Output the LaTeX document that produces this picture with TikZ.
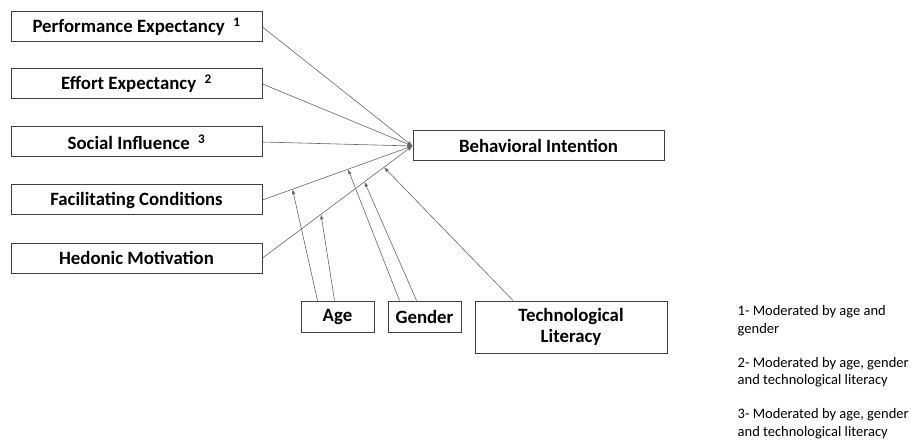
\documentclass[tikz,border=0pt]{standalone}
\usepackage{fontspec}
\setmainfont{Carlito}
\usetikzlibrary{positioning, arrows.meta}

\begin{document}
\begin{tikzpicture}[x=1pt, y=-1pt,
        % Define styles for the model components
        factor/.style={draw=black!75, line width=1pt, rectangle, minimum width=251pt, minimum height=30pt, align=center, font=\fontsize{18.8}{21}\selectfont\bfseries},
        moderator/.style={draw=black!75, line width=1pt, rectangle, minimum width=73pt, minimum height=31pt, align=center, font=\fontsize{18.8}{21}\selectfont\bfseries},
        effect/.style={draw=black!60, line width=0.6pt, -{Latex[length=5pt, width=4pt]}},
        moderation/.style={draw=black!60, line width=0.6pt, -{Latex[length=5pt, width=3.5pt]}},
        note/.style={align=left, inner sep=0pt, font=\fontsize{14.5}{17.5}\selectfont}
    ]
    \useasboundingbox (0,0) rectangle (911,441);
    
    % --- CONSTRUCTS ---
    % Predictors
    \node[factor] (pe) at (136.5,27) {Performance Expectancy~~\textsuperscript{1}};
    \node[factor, below=26pt of pe] (ee) {Effort Expectancy~~\textsuperscript{2}};
    \node[factor, below=27pt of ee] (si) {Social Influence~~\textsuperscript{3}};
    \node[factor, below=27pt of si] (fc) {Facilitating Conditions};
    \node[factor, below=27pt of fc] (hm) {Hedonic Motivation};
    
    % Outcome
    \node[factor, right=150pt of si, yshift=-4pt] (bi) {Behavioral Intention};
    
    % Moderators
    \node[moderator, below right=27pt and 38pt of hm] (age) {Age};
    \node[moderator, right=13pt of age] (gender) {Gender};
    \node[moderator, minimum width=192pt, minimum height=52pt, below right=0pt and 13pt of gender.north east] (lit) {Technological\\Literacy};
    
    % --- NOTES ---
    \node[note, below right=5pt and 70pt of lit.north east] (note1) {1- Moderated by age and\\gender};
    \node[note, below=21pt of note1.south west, anchor=north west] (note2) {2- Moderated by age, gender\\and technological literacy};
    \node[note, below=21pt of note2.south west, anchor=north west] (note3) {3- Moderated by age, gender\\and technological literacy};
    
    % --- CONNECTIONS ---
    % Predictors to Behavioral Intention
    \draw[effect] (pe.east) -- (bi.west);
    \draw[effect] (ee.east) -- (bi.west);
    \draw[effect] (si.east) -- (bi.west);
    \draw[effect] (fc.east) -- coordinate[pos=0.2] (fcage) coordinate[pos=0.57] (fcgen) (bi.west);
    \draw[effect] (hm.east) -- coordinate[pos=0.39] (hmage) coordinate[pos=0.68] (hmgen) coordinate[pos=0.81] (hmlit) (bi.west);
    
    % Moderating effects
    \draw[moderation] ([xshift=-20pt]age.north) -- (fcage);
    \draw[moderation] ([xshift=-3pt]age.north) -- (hmage);
    \draw[moderation] ([xshift=-25pt]gender.north) -- (fcgen);
    \draw[moderation] ([xshift=-8pt]gender.north) -- (hmgen);
    \draw[moderation] ([xshift=-58pt]lit.north) -- (hmlit);
    
\end{tikzpicture}
\end{document}
